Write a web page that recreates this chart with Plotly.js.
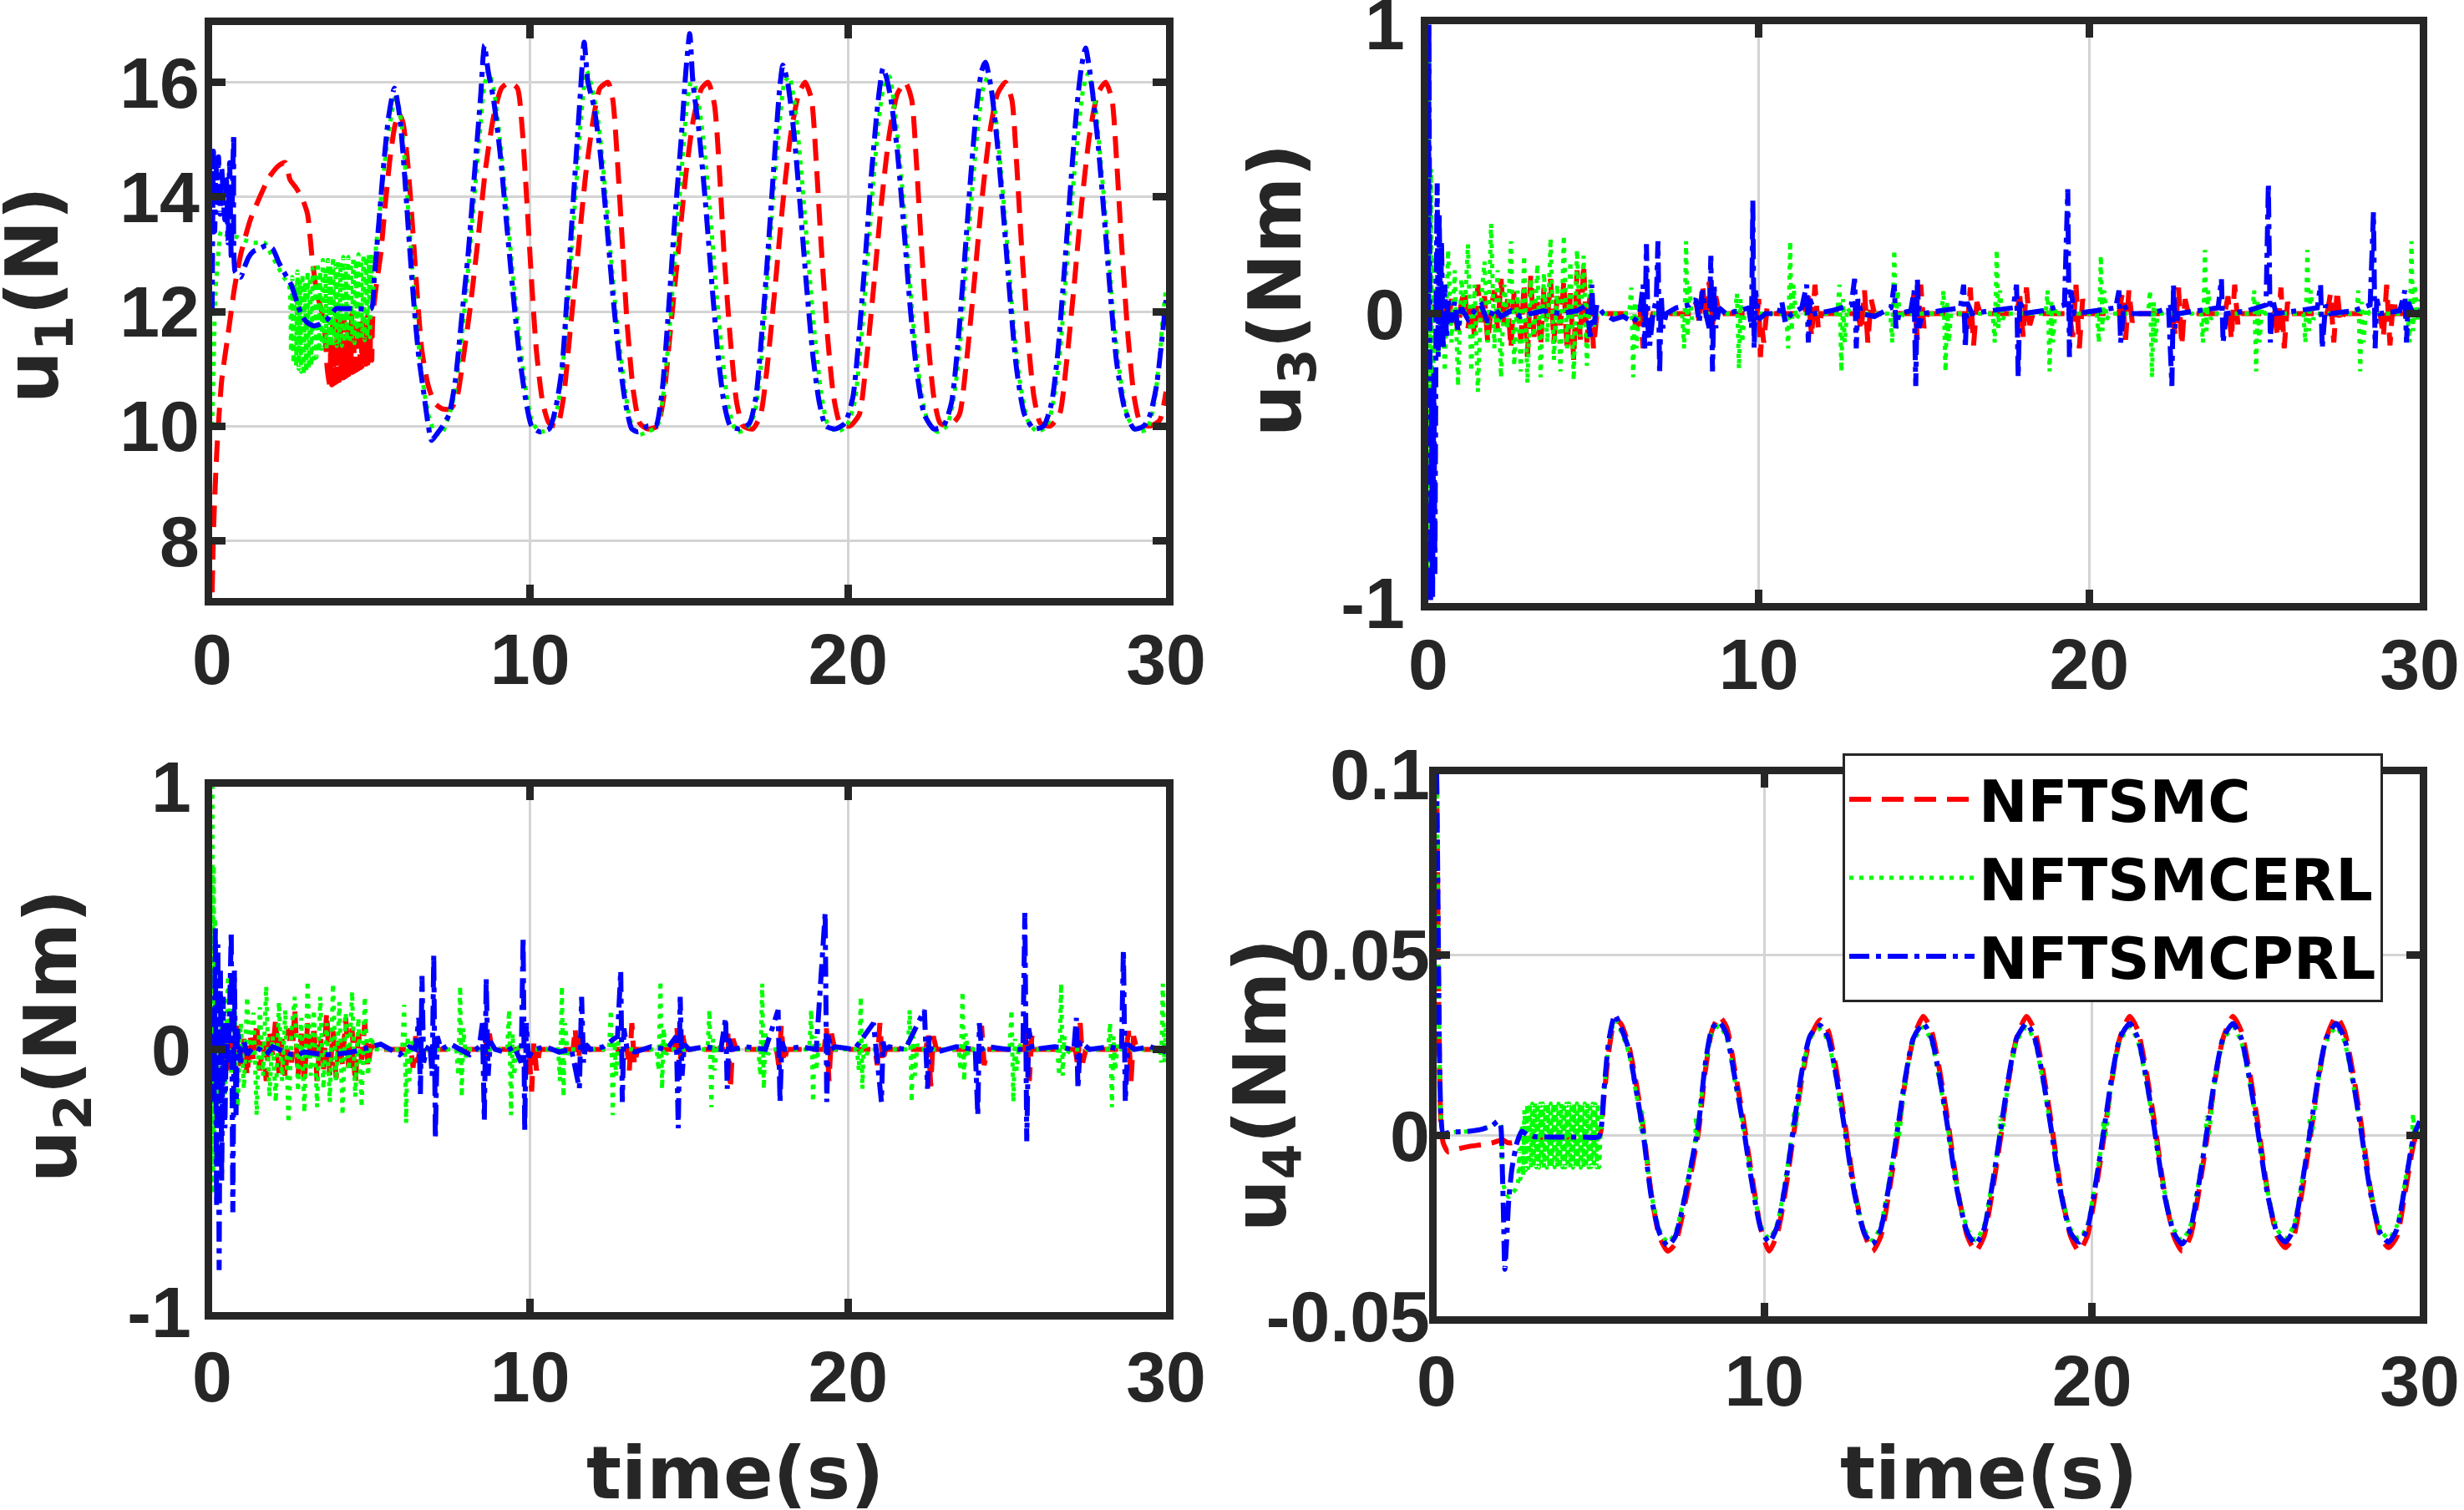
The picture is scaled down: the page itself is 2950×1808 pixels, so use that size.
<!DOCTYPE html>
<html>
<head>
<meta charset="utf-8">
<script src="https://cdn.plot.ly/plotly-3.0.1.min.js"></script>
<style>html,body{margin:0;padding:0;background:#fff;}#chart{width:2950px;height:1808px;}</style>
</head>
<body>
<div id="chart"></div>
<script>
// ---------------- DATA (time [s], value) ----------------
const methods = ['NFTSMC', 'NFTSMCERL', 'NFTSMCPRL'];
const xTicks = [0, 10, 20, 30];
const u1Ticks = [8, 10, 12, 14, 16];
const u23Ticks = [-1, 0, 1];
const u23TickText = ['-1', '0', '1'];
const u4Ticks = [-0.05, 0, 0.05, 0.1];
const u4TickText = ['-0.05', '0', '0.05', '0.1'];

// u1 (N)
const u1_NFTSMC = [[0,7.1],[0.05,8.3],[0.15,9.6],[0.3,10.8],[0.5,11.6],[0.7,12.4],[0.9,13.0],[1.2,13.6],[1.5,14.0],[1.8,14.35],[2.1,14.55],[2.3,14.6],[2.45,14.3],[2.65,14.15],[2.85,13.95],[3.0,13.7],[3.15,12.9],[3.3,12.3],[3.45,12.0],[3.55,11.6],[3.62,11.0],[3.7,10.72],
[3.73,11.5],[3.76,10.72],[3.79,11.8],[3.82,10.74],[3.85,11.4],[3.88,10.76],[3.91,11.9],[3.94,10.78],[3.97,11.6],[4.0,10.8],[4.03,11.85],[4.06,10.82],[4.09,11.5],[4.12,10.84],[4.15,11.9],[4.18,10.86],[4.21,11.45],[4.24,10.88],[4.27,11.8],[4.3,10.9],[4.33,11.6],[4.36,10.92],[4.39,11.95],[4.42,10.94],[4.45,11.5],[4.48,10.96],[4.51,11.85],[4.54,10.98],[4.57,11.55],[4.6,11.0],[4.63,11.9],[4.66,11.02],[4.69,11.5],[4.72,11.04],[4.75,11.8],[4.78,11.06],[4.81,11.6],[4.84,11.08],[4.87,11.9],[4.9,11.1],[4.93,11.5],[4.96,11.12],[4.99,11.85],[5.02,11.15],[5.05,11.9],
[5.15,12.4],[5.3,13.0],[5.45,13.9],[5.6,14.7],[5.75,15.25],[5.88,15.45],[6.0,15.3],[6.15,14.6],[6.3,13.5],[6.45,12.3],[6.6,11.3],[6.8,10.7],[7.0,10.4],[7.25,10.3],[7.5,10.3],[7.7,10.5],[7.9,11.2],[8.1,12.0],[8.35,13.2],[8.6,14.5],[8.85,15.4],[9.1,15.9],[9.35,16.0],[9.6,15.9],[9.75,15.2],[9.9,13.9],[10.05,12.5],[10.2,11.3],[10.4,10.4],[10.6,10.05],[10.85,10.0],[11.05,10.5],[11.25,11.6],[11.5,13.0],[11.75,14.4],[12.0,15.4],[12.2,15.9],[12.45,16.0],[12.6,15.7],[12.75,14.6],[12.9,13.2],[13.05,11.8],[13.25,10.6],[13.45,10.05],[13.7,9.95],[14.0,10.0],[14.2,10.5],[14.4,11.6],[14.65,13.0],[14.9,14.4],[15.15,15.4],[15.4,15.9],[15.6,16.0],[15.8,15.6],[15.95,14.5],[16.1,13.0],[16.3,11.5],[16.5,10.4],[16.7,10.0],[17.0,9.95],[17.25,10.2],[17.45,11.0],[17.7,12.4],[17.95,13.9],[18.2,15.1],[18.45,15.8],[18.65,16.0],[18.85,15.7],[19.0,14.6],[19.15,13.2],[19.35,11.6],[19.55,10.5],[19.75,10.05],[20.05,10.0],[20.35,10.2],[20.55,11.0],[20.8,12.4],[21.05,13.9],[21.3,15.1],[21.55,15.8],[21.8,16.0],[22.0,15.7],[22.15,14.6],[22.3,13.2],[22.5,11.6],[22.7,10.5],[22.9,10.05],[23.2,10.0],[23.5,10.2],[23.7,11.0],[23.95,12.4],[24.2,13.9],[24.45,15.1],[24.7,15.8],[24.95,16.0],[25.15,15.7],[25.3,14.6],[25.45,13.2],[25.65,11.6],[25.85,10.5],[26.05,10.05],[26.35,10.0],[26.65,10.2],[26.85,11.0],[27.1,12.4],[27.35,13.9],[27.6,15.1],[27.85,15.8],[28.1,16.0],[28.3,15.7],[28.45,14.6],[28.6,13.2],[28.8,11.6],[29.0,10.5],[29.2,10.05],[29.5,10.0],[29.8,10.1],[30.0,10.6]];

const u1_NFTSMCERL = [[0,10.0],[0.05,11.2],[0.1,12.3],[0.18,12.9],[0.28,13.4],[0.4,13.35],[0.6,13.3],[0.8,13.3],[1.0,13.25],[1.3,13.2],[1.65,13.2],[1.85,13.0],[2.05,12.8],[2.25,12.6],[2.42,12.45],
[2.48,11.3],[2.52,12.6],[2.56,11.1],[2.6,12.5],[2.64,11.05],[2.68,12.7],[2.72,11.0],[2.76,12.55],[2.8,10.95],[2.84,12.65],[2.88,10.9],[2.92,12.5],[2.96,10.95],[3.0,12.7],[3.04,11.0],[3.08,12.6],[3.12,11.05],[3.16,12.75],[3.2,11.1],[3.24,12.6],[3.28,11.2],[3.32,12.85],[3.36,11.3],[3.4,12.7],[3.44,11.35],[3.48,12.9],[3.52,11.4],[3.56,12.75],[3.6,11.35],[3.64,12.9],[3.68,11.4],[3.72,12.8],[3.76,11.4],[3.8,12.95],[3.84,11.45],[3.88,12.8],[3.92,11.4],[3.96,12.9],[4.0,11.45],[4.04,12.85],[4.08,11.4],[4.12,12.95],[4.16,11.45],[4.2,12.8],[4.24,11.5],[4.28,12.95],[4.32,11.45],[4.36,12.85],[4.4,11.5],[4.44,12.95],[4.48,11.45],[4.52,12.9],[4.56,11.5],[4.6,13.0],[4.64,11.5],[4.68,12.9],[4.72,11.55],[4.76,13.0],[4.8,11.5],[4.84,12.95],[4.88,11.55],[4.92,13.0],[4.96,11.55],[5.0,13.0],[5.04,12.2],
[5.15,13.1],[5.3,13.9],[5.45,14.7],[5.6,15.3],[5.78,15.8],[5.95,15.3],[6.1,14.3],[6.25,13.1],[6.4,12.0],[6.55,11.1],[6.7,10.5],[6.85,10.1],[7.0,9.9],[7.2,9.85],[7.4,10.1],[7.6,10.5],[7.8,11.3],[8.0,12.4],[8.2,13.7],[8.4,15.0],[8.55,15.9],[8.68,16.2],[8.85,15.9],[9.05,15.0],[9.25,13.9],[9.45,12.7],[9.65,11.6],[9.85,10.7],[10.05,10.1],[10.3,9.9],[10.6,9.95],[10.85,10.3],[11.05,11.2],[11.25,12.6],[11.45,14.2],[11.62,15.5],[11.78,16.2],[11.95,15.9],[12.15,15.3],[12.35,14.2],[12.55,12.9],[12.75,11.7],[12.95,10.8],[13.15,10.1],[13.4,9.85],[13.7,9.9],[14.0,10.0],[14.2,10.6],[14.4,11.8],[14.6,13.3],[14.8,14.7],[14.95,15.7],[15.1,16.1],[15.25,15.8],[15.45,15.0],[15.65,13.8],[15.85,12.4],[16.05,11.2],[16.25,10.3],[16.5,9.9],[16.8,9.95],[17.05,10.2],[17.25,11.0],[17.45,12.5],[17.65,14.0],[17.85,15.3],[18.0,16.0],[18.15,16.1],[18.35,15.5],[18.55,14.3],[18.75,12.9],[18.95,11.6],[19.15,10.6],[19.35,10.05],[19.65,9.9],[19.95,10.0],[20.2,10.4],[20.4,11.4],[20.6,12.8],[20.8,14.3],[21.0,15.5],[21.15,16.0],[21.3,16.1],[21.45,15.6],[21.65,14.5],[21.85,13.2],[22.05,11.8],[22.25,10.8],[22.5,10.1],[22.8,9.9],[23.1,10.0],[23.3,10.4],[23.5,11.3],[23.7,12.7],[23.9,14.1],[24.1,15.3],[24.25,15.9],[24.4,16.1],[24.6,15.6],[24.8,14.5],[25.0,13.2],[25.2,11.8],[25.4,10.8],[25.65,10.1],[25.95,9.9],[26.25,10.0],[26.45,10.4],[26.65,11.2],[26.85,12.6],[27.05,14.0],[27.25,15.2],[27.4,15.9],[27.55,16.15],[27.75,15.7],[27.95,14.6],[28.15,13.3],[28.35,11.9],[28.55,10.9],[28.8,10.15],[29.1,9.9],[29.4,9.95],[29.6,10.3],[29.8,11.2],[29.9,11.9],[30.0,12.4]];

const u1_NFTSMCPRL = [[0,12.0],[0.04,14.8],[0.08,13.4],[0.12,14.6],[0.16,13.9],[0.2,14.7],[0.25,13.7],[0.3,14.5],[0.35,14.0],[0.4,13.6],[0.45,14.3],[0.5,13.2],[0.55,14.6],[0.6,12.9],[0.64,14.2],[0.68,15.1],[0.72,12.7],[0.8,12.65],[0.9,12.6],[1.0,12.75],[1.15,12.95],[1.3,13.05],[1.5,13.1],[1.7,13.15],[1.9,13.1],[2.1,12.85],[2.3,12.65],[2.5,12.45],[2.7,12.1],[2.85,11.9],[3.0,11.8],[3.2,11.75],[3.4,11.78],[3.6,11.85],[3.75,11.95],[3.9,12.05],[4.2,12.05],[4.6,12.05],[5.0,12.05],[5.1,12.6],[5.25,13.6],[5.4,14.6],[5.55,15.4],[5.73,15.9],[5.9,15.4],[6.05,14.4],[6.2,13.2],[6.35,12.1],[6.5,11.2],[6.65,10.6],[6.8,10.0],[6.9,9.75],[7.05,9.85],[7.25,10.0],[7.45,10.2],[7.65,10.8],[7.85,11.9],[8.05,13.0],[8.25,14.4],[8.45,15.8],[8.56,16.65],[8.68,16.2],[8.85,15.7],[9.05,14.8],[9.25,13.6],[9.45,12.4],[9.65,11.3],[9.85,10.5],[10.05,10.0],[10.3,9.9],[10.6,9.95],[10.8,10.3],[11.0,11.0],[11.2,12.6],[11.4,14.3],[11.58,15.8],[11.7,16.7],[11.82,16.0],[12.0,15.6],[12.2,14.8],[12.4,13.6],[12.6,12.3],[12.8,11.2],[13.0,10.4],[13.2,9.95],[13.4,9.9],[13.7,10.0],[13.95,10.0],[14.15,10.6],[14.35,12.0],[14.55,13.6],[14.75,15.0],[14.9,16.2],[15.02,16.85],[15.12,16.0],[15.3,15.2],[15.5,14.0],[15.7,12.6],[15.9,11.3],[16.1,10.4],[16.3,10.0],[16.6,9.95],[16.9,10.05],[17.1,10.5],[17.3,11.7],[17.5,13.2],[17.7,14.8],[17.85,15.9],[17.95,16.3],[18.1,16.0],[18.3,15.1],[18.5,13.8],[18.7,12.4],[18.9,11.2],[19.1,10.4],[19.3,10.0],[19.6,9.95],[19.9,10.05],[20.15,10.5],[20.35,11.6],[20.55,13.0],[20.75,14.5],[20.95,15.7],[21.1,16.25],[21.2,16.1],[21.35,15.7],[21.55,14.8],[21.75,13.5],[21.95,12.1],[22.15,11.0],[22.4,10.2],[22.7,9.95],[23.0,10.0],[23.25,10.4],[23.45,11.4],[23.65,12.8],[23.85,14.3],[24.05,15.6],[24.2,16.2],[24.32,16.35],[24.5,15.9],[24.7,14.9],[24.9,13.6],[25.1,12.2],[25.3,11.0],[25.55,10.2],[25.85,9.95],[26.15,10.0],[26.4,10.4],[26.6,11.3],[26.8,12.7],[27.0,14.2],[27.2,15.6],[27.35,16.3],[27.47,16.6],[27.65,16.0],[27.85,15.0],[28.05,13.7],[28.25,12.3],[28.45,11.1],[28.7,10.3],[29.0,9.95],[29.3,10.0],[29.5,10.2],[29.7,10.7],[29.85,11.4],[30.0,12.2]];

// u3 (Nm)
const u3_NFTSMC = [[0,0],[0.05,-0.05],[0.1,0.03],[0.2,-0.02],[0.3,0.04],[0.4,-0.03],[0.5,0.02],[0.6,-0.04],[0.7,0.05],[0.8,0.0],[0.9,-0.06],[1.0,0.04],[1.1,0.08],[1.2,-0.05],[1.3,0.03],[1.4,-0.08],[1.5,0.1],[1.6,-0.03],[1.7,0.06],[1.8,-0.1],[1.9,0.02],[2.0,0.08],[2.1,-0.06],[2.2,0.12],[2.3,-0.04],[2.4,0.05],[2.5,-0.12],[2.6,0.08],[2.7,0.02],[2.8,-0.09],[2.9,0.1],[3.0,-0.15],[3.1,0.13],[3.2,-0.08],[3.3,0.04],[3.4,-0.11],[3.5,0.09],[3.6,-0.03],[3.7,0.12],[3.8,-0.1],[3.9,0.06],[4.0,-0.04],[4.1,0.11],[4.2,-0.13],[4.3,0.07],[4.4,-0.16],[4.5,0.15],[4.6,-0.09],[4.7,0.17],[4.8,-0.1],[4.9,0.08],[5.0,-0.12],[5.1,0.0],
[6.2,0],[6.3,-0.05],[6.4,0.03],[6.5,-0.12],[6.6,0.02],[6.7,-0.04],[6.8,0],[8.0,0],[8.1,0.04],[8.2,-0.03],[8.3,0.1],[8.4,-0.02],[8.5,0.11],[8.6,-0.04],[8.7,0.06],[8.8,0],[9.95,0],[10.0,0.05],[10.05,-0.15],[10.1,-0.05],[10.15,-0.1],[10.25,0.02],[10.35,0],[11.4,0],[11.5,0.06],[11.6,-0.08],[11.7,0.1],[11.8,-0.05],[11.9,0],[13.0,0],[13.1,-0.06],[13.2,0.08],[13.3,-0.1],[13.4,0.05],[13.5,0],[14.6,0],[14.7,0.07],[14.8,-0.09],[14.9,0.1],[15.0,-0.05],[15.1,0],[16.2,0],[16.3,-0.07],[16.4,0.09],[16.5,-0.11],[16.6,0.04],[16.7,0],[17.8,0],[17.9,0.06],[18.0,-0.08],[18.1,0.09],[18.2,-0.04],[18.3,0],[19.4,0],[19.5,-0.08],[19.6,0.1],[19.7,-0.12],[19.8,0.05],[19.9,0],[20.9,0],[21.0,0.07],[21.1,-0.09],[21.2,0.08],[21.3,-0.03],[21.4,0],[22.5,0],[22.6,-0.07],[22.7,0.09],[22.8,-0.11],[22.9,0.05],[23.0,0],[24.1,0],[24.2,0.06],[24.3,-0.09],[24.4,0.1],[24.5,-0.04],[24.6,0],[25.6,0],[25.7,-0.08],[25.8,0.09],[25.9,-0.12],[26.0,0.04],[26.1,0],[27.2,0],[27.3,0.07],[27.4,-0.1],[27.5,0.08],[27.6,-0.03],[27.7,0],[28.8,0],[28.9,-0.08],[29.0,0.1],[29.1,-0.11],[29.2,0.05],[29.3,0],[30.0,0]];

const u3_NFTSMCERL = [[0,0],[0.02,0.9],[0.05,-0.9],[0.08,0.5],[0.12,-0.4],[0.2,0.2],[0.3,-0.15],[0.4,0.1],[0.5,-0.2],[0.6,0.22],[0.7,-0.1],[0.8,0.15],[0.9,-0.25],[1.0,0.12],[1.1,0.0],[1.2,0.24],[1.3,-0.2],[1.4,0.1],[1.5,-0.27],[1.6,0.05],[1.7,0.18],[1.8,-0.1],[1.9,0.31],[2.0,-0.12],[2.1,0.15],[2.2,-0.22],[2.3,0.1],[2.4,-0.05],[2.5,0.25],[2.6,-0.18],[2.7,0.08],[2.8,-0.2],[2.9,0.2],[3.0,-0.24],[3.1,0.12],[3.2,-0.08],[3.3,0.17],[3.4,-0.22],[3.5,0.14],[3.6,-0.1],[3.7,0.26],[3.8,-0.16],[3.9,0.1],[4.0,-0.2],[4.1,0.27],[4.2,-0.12],[4.3,0.18],[4.4,-0.23],[4.5,0.22],[4.6,-0.08],[4.7,0.2],[4.8,-0.18],[4.9,0.12],[5.0,-0.05],[5.1,0.0],
[6.08,0],[6.14,0.09],[6.2,-0.22],[6.25,0.04],[6.3,-0.12],[6.38,0.02],[6.48,0],
[7.68,0],[7.74,-0.12],[7.8,0.25],[7.85,-0.08],[7.9,0.1],[7.98,-0.02],[8.08,0],
[9.28,0],[9.34,0.07],[9.4,-0.19],[9.45,0.05],[9.5,-0.1],[9.58,0.02],[9.68,0],
[10.83,0],[10.89,-0.12],[10.95,0.25],[11.0,-0.06],[11.05,0.1],[11.13,-0.02],[11.23,0],
[12.38,0],[12.44,0.1],[12.5,-0.2],[12.55,0.05],[12.6,-0.1],[12.68,0.02],[12.78,0],
[13.98,0],[14.04,-0.1],[14.1,0.22],[14.15,-0.06],[14.2,0.08],[14.28,-0.02],[14.38,0],
[15.53,0],[15.59,0.08],[15.65,-0.2],[15.7,0.04],[15.75,-0.1],[15.83,0.02],[15.93,0],
[17.08,0],[17.14,-0.1],[17.2,0.22],[17.25,-0.05],[17.3,0.08],[17.38,-0.02],[17.48,0],
[18.68,0],[18.74,0.08],[18.8,-0.2],[18.85,0.04],[18.9,-0.1],[18.98,0.02],[19.08,0],
[20.23,0],[20.29,-0.1],[20.35,0.2],[20.4,-0.06],[20.45,0.08],[20.53,-0.02],[20.63,0],
[21.78,0],[21.84,0.08],[21.9,-0.22],[21.95,0.04],[22.0,-0.1],[22.08,0.02],[22.18,0],
[23.38,0],[23.44,-0.1],[23.5,0.22],[23.55,-0.06],[23.6,0.08],[23.68,-0.02],[23.78,0],
[24.93,0],[24.99,0.08],[25.05,-0.2],[25.1,0.04],[25.15,-0.1],[25.23,0.02],[25.33,0],
[26.48,0],[26.54,-0.1],[26.6,0.22],[26.65,-0.06],[26.7,0.08],[26.78,-0.02],[26.88,0],
[28.08,0],[28.14,0.08],[28.2,-0.2],[28.25,0.04],[28.3,-0.1],[28.38,0.02],[28.48,0],
[29.63,0],[29.69,-0.1],[29.75,0.25],[29.8,-0.06],[29.85,0.1],[29.93,-0.02],[30.0,0.05]];

const u3_NFTSMCPRL = [[0,0],[0.02,1.0],[0.04,0.2],[0.07,-1.0],[0.1,-0.3],[0.13,-0.98],[0.17,-0.2],[0.2,-0.9],[0.24,0.1],[0.27,0.45],[0.3,-0.15],[0.33,0.35],[0.37,-0.05],[0.4,0.25],[0.45,-0.12],[0.5,0.1],[0.55,-0.08],[0.6,0.05],[0.7,-0.03],[0.8,0.04],[0.9,-0.06],[1.0,0.02],[1.2,-0.02],[1.4,0.01],[1.6,0.03],[1.8,-0.03],[2.0,0.02],[2.2,-0.01],[2.5,0.01],[2.8,-0.01],[3.1,0.0],[3.5,0.01],[4.0,0.0],[4.5,0.01],[4.8,0.03],[4.9,-0.08],[4.95,0.1],[5.0,-0.05],[5.1,0.03],[5.3,0.0],[5.6,-0.02],[5.9,-0.01],[6.2,-0.03],[6.4,0.0],[6.5,0.1],[6.55,-0.12],[6.6,0.24],[6.65,-0.05],[6.7,-0.11],[6.8,0.0],[6.9,0.05],[6.95,0.25],[7.0,-0.21],[7.05,0.06],[7.1,-0.05],[7.2,0.0],[7.5,0.02],[7.9,0.03],[8.1,0.05],[8.2,-0.03],[8.3,0.08],[8.4,0.0],[8.5,-0.05],[8.55,0.2],[8.6,-0.2],[8.65,0.1],[8.7,-0.05],[8.8,0.02],[9.0,0.0],[9.4,0.01],[9.7,0.02],[9.78,-0.05],[9.82,0.39],[9.86,-0.12],[9.9,0.08],[10.0,-0.02],[10.2,0.0],[10.6,0.0],[10.7,0.04],[10.8,-0.03],[11.0,0.0],[11.3,0.02],[11.45,0.1],[11.5,-0.1],[11.55,0.05],[11.7,0.0],[12.2,0.01],[12.8,0.03],[12.9,0.12],[12.95,-0.12],[13.0,0.05],[13.1,0.0],[13.5,-0.01],[14.0,0.02],[14.1,0.1],[14.15,-0.05],[14.25,0.0],[14.6,0.01],[14.7,0.08],[14.75,-0.25],[14.8,0.12],[14.85,-0.05],[14.95,0.0],[15.5,0.01],[16.1,0.02],[16.2,0.1],[16.25,-0.12],[16.3,0.04],[16.45,0.0],[17.0,0.01],[17.7,0.02],[17.8,0.1],[17.85,-0.22],[17.9,0.05],[18.0,0.0],[18.6,0.01],[19.25,0.03],[19.35,0.43],[19.4,-0.15],[19.45,0.08],[19.55,0.0],[20.2,0.01],[20.8,0.02],[20.9,0.08],[20.95,-0.1],[21.05,0.03],[21.2,0.0],[21.9,0.0],[22.4,0.02],[22.5,-0.25],[22.55,0.1],[22.6,-0.05],[22.7,0.0],[23.3,0.01],[23.9,0.02],[24.0,0.12],[24.05,-0.1],[24.15,0.0],[24.8,0.01],[25.35,0.03],[25.42,0.45],[25.48,-0.1],[25.55,0.05],[25.65,0.0],[26.3,0.01],[26.9,0.02],[27.0,0.1],[27.05,-0.12],[27.15,0.03],[27.3,0.0],[28.0,0.01],[28.5,0.03],[28.6,0.35],[28.65,-0.12],[28.7,0.05],[28.8,0.0],[29.4,0.01],[29.55,0.08],[29.6,-0.1],[29.65,0.04],[29.8,0.0],[30.0,0.01]];

// u2 (Nm)
const u2_NFTSMC = [[0,0],[0.1,-0.04],[0.2,0.05],[0.3,-0.06],[0.4,0.03],[0.5,-0.08],[0.6,0.06],[0.7,-0.03],[0.8,0.09],[0.9,-0.07],[1.0,0.04],[1.1,-0.1],[1.2,0.05],[1.3,-0.04],[1.4,0.1],[1.5,-0.08],[1.6,0.03],[1.7,-0.12],[1.8,0.07],[1.9,-0.02],[2.0,0.12],[2.1,-0.09],[2.2,0.04],[2.3,-0.11],[2.4,0.08],[2.5,-0.05],[2.6,0.15],[2.7,-0.1],[2.8,0.06],[2.9,-0.13],[3.0,0.1],[3.1,-0.04],[3.2,0.09],[3.3,-0.12],[3.4,0.05],[3.5,-0.08],[3.6,0.14],[3.7,-0.1],[3.8,0.07],[3.9,-0.11],[4.0,0.05],[4.1,-0.06],[4.2,0.12],[4.3,-0.09],[4.4,0.08],[4.5,-0.13],[4.6,0.06],[4.7,-0.04],[4.8,0.1],[4.9,-0.07],[5.0,0.02],[5.1,0],
[6.25,0],[6.32,-0.07],[6.4,0.05],[6.47,-0.05],[6.55,0.02],[6.65,0],[8.5,0],[8.58,0.1],[8.65,-0.03],[8.72,0.06],[8.8,0],[9.9,0],[9.97,-0.02],[10.05,-0.16],[10.12,0.03],[10.2,-0.08],[10.3,0],[11.35,0],[11.42,0.08],[11.5,-0.1],[11.58,0.05],[11.68,0],[13.05,0],[13.12,-0.08],[13.2,0.1],[13.28,-0.06],[13.38,0],[14.55,0],[14.62,0.08],[14.7,-0.1],[14.78,0.07],[14.88,0],[16.15,0],[16.22,0.06],[16.3,-0.15],[16.38,0.04],[16.48,0],[17.75,0],[17.82,-0.06],[17.9,0.09],[17.98,-0.05],[18.08,0],[19.25,0],[19.32,0.08],[19.4,-0.12],[19.48,0.06],[19.58,0],[20.85,0],[20.92,-0.06],[21.0,0.1],[21.08,-0.05],[21.18,0],[22.45,0],[22.52,0.06],[22.6,-0.14],[22.68,0.05],[22.78,0],[24.05,0],[24.12,-0.05],[24.2,0.09],[24.28,-0.06],[24.38,0],[25.55,0],[25.62,0.07],[25.7,-0.12],[25.78,0.05],[25.88,0],[27.15,0],[27.22,-0.06],[27.3,0.1],[27.38,-0.05],[27.48,0],[28.75,0],[28.82,0.07],[28.9,-0.12],[28.98,0.05],[29.08,0],[30.0,0]];

const u2_NFTSMCERL = [[0,0],[0.01,1.0],[0.03,-0.55],[0.05,0.7],[0.07,-0.45],[0.09,0.5],[0.12,-0.3],[0.16,0.2],[0.2,-0.25],[0.3,0.15],[0.4,-0.2],[0.5,0.28],[0.6,-0.1],[0.7,0.18],[0.8,-0.22],[0.9,0.1],[1.0,-0.15],[1.1,0.2],[1.2,-0.05],[1.3,0.14],[1.4,-0.25],[1.5,0.16],[1.6,-0.1],[1.7,0.24],[1.8,-0.18],[1.9,0.05],[2.0,-0.2],[2.1,0.18],[2.2,-0.12],[2.3,0.15],[2.4,-0.28],[2.5,0.08],[2.6,0.2],[2.7,-0.16],[2.8,0.12],[2.9,-0.24],[3.0,0.26],[3.1,-0.1],[3.2,0.15],[3.3,-0.22],[3.4,0.2],[3.5,-0.15],[3.6,0.1],[3.7,-0.2],[3.8,0.25],[3.9,-0.12],[4.0,0.18],[4.1,-0.25],[4.2,0.14],[4.3,-0.08],[4.4,0.22],[4.5,-0.18],[4.6,0.12],[4.7,-0.22],[4.8,0.2],[4.9,-0.1],[5.0,0.05],[5.1,0.0],
[5.98,0],[6.04,0.17],[6.1,-0.28],[6.15,0.05],[6.2,-0.12],[6.28,0.03],[6.38,0],
[7.68,0],[7.74,-0.1],[7.8,0.24],[7.85,-0.18],[7.9,0.08],[7.98,-0.03],[8.08,0],
[9.28,0],[9.34,0.15],[9.4,-0.25],[9.45,0.06],[9.5,-0.1],[9.58,0.02],[9.68,0],
[10.88,0],[10.94,-0.12],[11.0,0.24],[11.05,-0.18],[11.1,0.1],[11.18,-0.02],[11.28,0],
[12.48,0],[12.54,0.15],[12.6,-0.25],[12.65,0.05],[12.7,-0.1],[12.78,0.03],[12.88,0],
[13.98,0],[14.04,-0.08],[14.1,0.26],[14.15,-0.15],[14.2,0.08],[14.28,-0.02],[14.38,0],
[15.58,0],[15.64,0.15],[15.7,-0.22],[15.75,0.04],[15.8,-0.08],[15.88,0.02],[15.98,0],
[17.18,0],[17.24,-0.1],[17.3,0.25],[17.35,-0.15],[17.4,0.06],[17.48,-0.02],[17.58,0],
[18.78,0],[18.84,0.15],[18.9,-0.2],[18.95,0.05],[19.0,-0.08],[19.08,0.02],[19.18,0],
[20.28,0],[20.34,-0.08],[20.4,0.2],[20.45,-0.15],[20.5,0.05],[20.58,-0.02],[20.68,0],
[21.88,0],[21.94,0.15],[22.0,-0.2],[22.05,0.05],[22.1,-0.1],[22.18,0.02],[22.28,0],
[23.48,0],[23.54,-0.08],[23.6,0.22],[23.65,-0.12],[23.7,0.06],[23.78,-0.02],[23.88,0],
[25.08,0],[25.14,0.15],[25.2,-0.2],[25.25,0.04],[25.3,-0.08],[25.38,0.02],[25.48,0],
[26.58,0],[26.64,-0.1],[26.7,0.25],[26.75,-0.1],[26.8,0.05],[26.88,-0.02],[26.98,0],
[28.18,0],[28.24,0.1],[28.3,-0.22],[28.35,0.05],[28.4,-0.08],[28.48,0.02],[28.58,0],
[29.8,0],[29.85,-0.05],[29.9,0.25],[29.95,-0.05],[30.0,0.1]];

const u2_NFTSMCPRL = [[0,0],[0.03,0.05],[0.06,-0.2],[0.1,0.47],[0.14,-0.6],[0.18,0.4],[0.22,-0.84],[0.26,0.3],[0.3,-0.5],[0.35,0.2],[0.4,-0.3],[0.45,0.1],[0.5,-0.05],[0.55,0.15],[0.6,0.45],[0.65,-0.62],[0.7,0.3],[0.75,-0.25],[0.8,0.08],[0.9,-0.05],[1.0,0.03],[1.1,-0.02],[1.3,0.01],[1.5,0.0],[1.7,-0.02],[1.9,0.01],[2.1,0.0],[2.3,-0.01],[2.5,-0.02],[2.7,-0.02],[2.9,-0.01],[3.2,-0.015],[3.5,-0.02],[3.8,-0.02],[4.1,-0.015],[4.4,-0.01],[4.7,0.0],[5.0,0.01],[5.3,0.02],[5.6,0.0],[5.9,-0.02],[6.2,0.01],[6.4,0.0],[6.5,0.12],[6.55,-0.17],[6.6,0.28],[6.65,-0.05],[6.75,0.0],[6.85,0.02],[6.92,-0.1],[6.97,0.36],[7.02,-0.34],[7.08,0.05],[7.2,0.0],[7.5,0.02],[7.8,0.0],[8.1,-0.02],[8.4,0.01],[8.5,0.1],[8.56,-0.27],[8.62,0.27],[8.68,-0.1],[8.75,0.03],[8.9,0.0],[9.2,-0.01],[9.5,0.01],[9.72,-0.05],[9.78,0.43],[9.83,-0.31],[9.88,0.1],[9.95,-0.03],[10.1,0.0],[10.5,0.01],[10.9,-0.01],[11.3,0.0],[11.55,-0.15],[11.62,0.2],[11.68,-0.05],[11.75,0.02],[11.9,0.0],[12.3,0.01],[12.75,0.05],[12.85,0.3],[12.9,-0.2],[12.95,0.08],[13.05,0.0],[13.3,-0.01],[13.8,0.01],[14.3,0.0],[14.6,0.05],[14.66,-0.3],[14.72,0.2],[14.78,-0.1],[14.85,0.02],[15.0,0.0],[15.5,0.01],[16.0,0.0],[16.15,0.12],[16.2,-0.15],[16.25,0.04],[16.35,0.0],[16.8,0.01],[17.4,0.0],[17.8,0.15],[17.86,-0.2],[17.92,0.03],[18.0,0.0],[18.5,0.01],[19.0,0.0],[19.28,0.52],[19.33,-0.2],[19.38,0.06],[19.45,0.0],[19.6,0.01],[20.2,0.0],[20.8,0.1],[21.05,-0.2],[21.1,0.03],[21.15,0.0],[21.3,0.01],[21.8,0.0],[22.4,0.15],[22.5,-0.15],[22.55,0.05],[22.62,0.0],[22.8,-0.01],[23.4,0.01],[24.0,0.0],[24.08,-0.25],[24.13,0.1],[24.2,0.0],[24.4,0.01],[25.0,0.0],[25.5,0.0],[25.56,0.52],[25.62,-0.35],[25.68,0.08],[25.8,0.0],[26.5,0.01],[27.1,0.0],[27.18,0.12],[27.23,-0.15],[27.3,0.03],[27.6,0.0],[28.2,0.01],[28.6,0.0],[28.66,0.38],[28.72,-0.2],[28.8,0.02],[29.0,0.0],[29.5,0.01],[29.8,0.0],[30.0,-0.01]];

// u4 (Nm)
const u4_NFTSMC = [[0,0.1],[0.03,0.07],[0.06,0.04],[0.09,0.018],[0.13,0.004],[0.2,-0.002],[0.35,-0.0045],[0.6,-0.0038],[1.0,-0.003],[1.4,-0.0025],[1.7,-0.002],[1.87,-0.0015],[1.95,-0.0013],[2.0,-0.0012],[2.04,-0.0013],[2.08,-0.0015],[2.13,-0.0018],[2.2,-0.002],[2.3,-0.002],[2.45,-0.0015],[2.6,-0.001],[2.75,-0.0008],[3.0,-0.0006],[3.5,-0.0005],[4.0,-0.0005],[4.5,-0.0005],[4.95,-0.0004],[5.1,0.01],[5.25,0.023],[5.44,0.032],[5.62,0.031],[5.86,0.025],[6.08,0.015],[6.29,0.003],[6.55,-0.016],[6.8,-0.028],[7.05,-0.032],[7.28,-0.03],[7.48,-0.023],[7.75,-0.011],[7.99,0.001],[8.2,0.018],[8.4,0.029],[8.62,0.033],[8.85,0.03],[9.1,0.018],[9.35,0.005],[9.6,-0.01],[9.9,-0.026],[10.15,-0.032],[10.4,-0.027],[10.65,-0.015],[10.92,0.002],[11.15,0.016],[11.4,0.027],[11.7,0.032],[11.95,0.029],[12.2,0.018],[12.45,0.004],[12.75,-0.015],[13.05,-0.027],[13.3,-0.032],[13.55,-0.028],[13.8,-0.016],[14.07,0.0],[14.3,0.015],[14.55,0.027],[14.85,0.033],[15.1,0.029],[15.35,0.018],[15.6,0.004],[15.9,-0.015],[16.2,-0.028],[16.45,-0.032],[16.7,-0.028],[16.95,-0.016],[17.22,0.0],[17.45,0.015],[17.7,0.027],[18.0,0.033],[18.25,0.029],[18.5,0.018],[18.75,0.004],[19.05,-0.015],[19.35,-0.028],[19.6,-0.032],[19.85,-0.028],[20.1,-0.016],[20.37,0.0],[20.6,0.015],[20.85,0.027],[21.15,0.033],[21.4,0.029],[21.65,0.018],[21.9,0.004],[22.2,-0.015],[22.5,-0.028],[22.75,-0.032],[23.0,-0.028],[23.25,-0.016],[23.52,0.0],[23.75,0.015],[24.0,0.027],[24.3,0.033],[24.55,0.029],[24.8,0.018],[25.05,0.004],[25.35,-0.015],[25.65,-0.028],[25.9,-0.031],[26.15,-0.028],[26.4,-0.016],[26.67,0.0],[26.9,0.015],[27.15,0.027],[27.45,0.033],[27.7,0.029],[27.95,0.018],[28.2,0.004],[28.5,-0.015],[28.8,-0.028],[29.05,-0.031],[29.3,-0.028],[29.55,-0.016],[29.82,-0.002],[30.0,0.003]];

const u4_NFTSMCERL = [[0,0.1],[0.03,0.072],[0.06,0.043],[0.09,0.019],[0.13,0.005],[0.2,0.0005],[0.35,0.0008],[0.6,0.001],[1.0,0.0012],[1.4,0.0018],[1.7,0.0028],[1.87,0.0038],[1.95,0.003],[2.0,-0.006],[2.05,-0.014],[2.12,-0.016],[2.2,-0.017],[2.3,-0.016],[2.4,-0.015],[2.48,-0.013],
[2.52,-0.004],[2.56,-0.012],[2.6,0.002],[2.64,-0.011],[2.68,0.007],[2.72,-0.0095],[2.76,0.0085],[2.8,-0.009],[2.84,0.0088],[2.88,-0.0088],[2.92,0.0088],[2.96,-0.0087],[3.0,0.0089],[3.04,-0.0088],[3.08,0.0087],[3.12,-0.0089],[3.16,0.0088],[3.2,-0.0087],[3.24,0.0089],[3.28,-0.0088],[3.32,0.0088],[3.36,-0.0089],[3.4,0.0087],[3.44,-0.0088],[3.48,0.0089],[3.52,-0.0087],[3.56,0.0088],[3.6,-0.0088],[3.64,0.0089],[3.68,-0.0087],[3.72,0.0088],[3.76,-0.0089],[3.8,0.0087],[3.84,-0.0088],[3.88,0.0089],[3.92,-0.0088],[3.96,0.0088],[4.0,-0.0087],[4.04,0.0089],[4.08,-0.0088],[4.12,0.0087],[4.16,-0.0089],[4.2,0.0088],[4.24,-0.0087],[4.28,0.0089],[4.32,-0.0088],[4.36,0.0088],[4.4,-0.0089],[4.44,0.0087],[4.48,-0.0088],[4.52,0.0089],[4.56,-0.0087],[4.6,0.0088],[4.64,-0.0088],[4.68,0.0089],[4.72,-0.0087],[4.76,0.0088],[4.8,-0.0089],[4.84,0.0087],[4.88,-0.0088],[4.92,0.0089],[4.96,-0.0088],[5.0,0.0],
[5.1,0.011],[5.25,0.025],[5.44,0.032],[5.62,0.029],[5.86,0.023],[6.08,0.012],[6.2,0.006],[6.24,0.0015],[6.27,0.0065],[6.32,0.001],[6.55,-0.016],[6.8,-0.026],[7.05,-0.0295],[7.28,-0.027],[7.48,-0.02],[7.75,-0.008],[7.88,-0.002],[7.92,0.005],[7.96,-0.001],[7.99,0.004],[8.2,0.019],[8.4,0.028],[8.62,0.0305],[8.85,0.027],[9.1,0.015],[9.35,0.003],[9.6,-0.011],[9.9,-0.025],[10.15,-0.0285],[10.4,-0.024],[10.65,-0.012],[10.85,0.001],[10.9,0.006],[10.95,0.002],[11.15,0.017],[11.4,0.027],[11.7,0.0295],[11.95,0.026],[12.2,0.015],[12.45,0.002],[12.75,-0.015],[13.05,-0.026],[13.3,-0.029],[13.55,-0.025],[13.8,-0.013],[14.0,-0.002],[14.05,0.004],[14.1,0.0],[14.3,0.015],[14.55,0.026],[14.85,0.03],[15.1,0.026],[15.35,0.015],[15.6,0.002],[15.9,-0.015],[16.2,-0.026],[16.45,-0.029],[16.7,-0.025],[16.95,-0.013],[17.15,-0.002],[17.2,0.005],[17.25,0.001],[17.45,0.015],[17.7,0.026],[18.0,0.03],[18.25,0.026],[18.5,0.015],[18.75,0.002],[19.05,-0.015],[19.35,-0.026],[19.6,-0.0285],[19.85,-0.025],[20.1,-0.013],[20.3,-0.002],[20.35,0.004],[20.4,0.0],[20.6,0.015],[20.85,0.026],[21.15,0.03],[21.4,0.026],[21.65,0.015],[21.9,0.002],[22.2,-0.015],[22.5,-0.026],[22.75,-0.029],[23.0,-0.025],[23.25,-0.013],[23.45,-0.002],[23.5,0.005],[23.55,0.0],[23.75,0.015],[24.0,0.026],[24.3,0.03],[24.55,0.026],[24.8,0.015],[25.05,0.002],[25.35,-0.015],[25.65,-0.026],[25.9,-0.0285],[26.15,-0.025],[26.4,-0.013],[26.6,-0.002],[26.65,0.005],[26.7,0.0],[26.9,0.015],[27.15,0.026],[27.45,0.03],[27.7,0.026],[27.95,0.015],[28.2,0.002],[28.5,-0.015],[28.8,-0.026],[29.05,-0.0285],[29.3,-0.025],[29.55,-0.013],[29.75,-0.002],[29.8,0.006],[29.85,0.0],[30.0,0.004]];

const u4_NFTSMCPRL = [[0,0.1],[0.03,0.075],[0.06,0.045],[0.09,0.02],[0.13,0.006],[0.2,0.0005],[0.35,0.0008],[0.6,0.001],[1.0,0.0012],[1.4,0.0018],[1.7,0.0028],[1.87,0.004],[1.95,0.003],[2.0,-0.008],[2.04,-0.022],[2.08,-0.037],[2.13,-0.03],[2.2,-0.018],[2.3,-0.009],[2.45,-0.002],[2.6,0.0012],[2.75,0.0003],[3.0,-0.0003],[3.5,-0.0004],[4.0,-0.0004],[4.5,-0.0004],[4.95,-0.0003],[5.1,0.012],[5.25,0.026],[5.44,0.0334],[5.62,0.03],[5.86,0.024],[6.08,0.013],[6.29,0.0015],[6.55,-0.017],[6.8,-0.027],[7.05,-0.0305],[7.28,-0.028],[7.48,-0.021],[7.75,-0.009],[7.99,0.003],[8.2,0.02],[8.4,0.0295],[8.62,0.0315],[8.85,0.028],[9.1,0.016],[9.35,0.003],[9.6,-0.012],[9.9,-0.026],[10.15,-0.0295],[10.4,-0.025],[10.65,-0.013],[10.92,0.004],[11.15,0.018],[11.4,0.0277],[11.7,0.0305],[11.95,0.027],[12.2,0.016],[12.45,0.002],[12.75,-0.016],[13.05,-0.027],[13.3,-0.03],[13.55,-0.026],[13.8,-0.014],[14.07,0.002],[14.3,0.016],[14.55,0.027],[14.85,0.031],[15.1,0.027],[15.35,0.016],[15.6,0.002],[15.9,-0.016],[16.2,-0.027],[16.45,-0.03],[16.7,-0.026],[16.95,-0.014],[17.22,0.002],[17.45,0.016],[17.7,0.027],[18.0,0.031],[18.25,0.027],[18.5,0.016],[18.75,0.002],[19.05,-0.016],[19.35,-0.027],[19.6,-0.0295],[19.85,-0.026],[20.1,-0.014],[20.37,0.002],[20.6,0.016],[20.85,0.027],[21.15,0.031],[21.4,0.027],[21.65,0.016],[21.9,0.002],[22.2,-0.016],[22.5,-0.027],[22.75,-0.03],[23.0,-0.026],[23.25,-0.014],[23.52,0.002],[23.75,0.016],[24.0,0.027],[24.3,0.031],[24.55,0.027],[24.8,0.016],[25.05,0.002],[25.35,-0.016],[25.65,-0.027],[25.9,-0.0295],[26.15,-0.026],[26.4,-0.014],[26.67,0.002],[26.9,0.016],[27.15,0.027],[27.45,0.031],[27.7,0.027],[27.95,0.016],[28.2,0.002],[28.5,-0.016],[28.8,-0.027],[29.05,-0.0295],[29.3,-0.026],[29.55,-0.014],[29.82,0.0],[30.0,0.004]];

// ---------------- STYLE ----------------
const W = 2950, H = 1808;
const px = v => v / W;
const py = v => 1 - v / H;
const INK = '#262626';
const lineStyle = {
  NFTSMC:    {color: '#ff0000', width: 6,   dash: '26px,13px'},
  NFTSMCERL: {color: '#00ff00', width: 5,   dash: '5px,7px'},
  NFTSMCPRL: {color: '#0000ff', width: 6,   dash: '24px,8px,6px,8px'}
};

const panels = [
  {ax: '',  data: [u1_NFTSMC, u1_NFTSMCERL, u1_NFTSMCPRL], shape: 'spline'},
  {ax: '2', data: [u3_NFTSMC, u3_NFTSMCERL, u3_NFTSMCPRL], shape: 'linear'},
  {ax: '3', data: [u2_NFTSMC, u2_NFTSMCERL, u2_NFTSMCPRL], shape: 'linear'},
  {ax: '4', data: [u4_NFTSMC, u4_NFTSMCERL, u4_NFTSMCPRL], shape: 'spline'}
];

const traces = [];
panels.forEach((p, pi) => {
  p.data.forEach((series, mi) => {
    const m = methods[mi];
    traces.push({
      type: 'scatter', mode: 'lines', name: m, legendgroup: m,
      showlegend: pi === 0,
      x: series.map(d => d[0]), y: series.map(d => d[1]),
      xaxis: 'x' + p.ax, yaxis: 'y' + p.ax,
      line: Object.assign({shape: p.shape, smoothing: 0.6, simplify: false}, lineStyle[m]),
      hoverinfo: 'skip'
    });
  });
});

function axisBase(extra) {
  return Object.assign({
    showline: true, linewidth: 9, linecolor: INK, mirror: 'ticks',
    ticks: 'inside', ticklen: 16, tickwidth: 9, tickcolor: INK,
    showgrid: true, gridcolor: '#d4d4d4', gridwidth: 3, zeroline: false,
    tickfont: {family: 'Liberation Sans', size: 86, weight: 'bold', color: INK},
    ticklabeloverflow: 'allow',
    fixedrange: true
  }, extra);
}
const xa = (dom, anchor, stand) => axisBase({domain: dom, anchor: anchor, range: [0, 30], tickvals: xTicks, ticktext: xTicks.map(String), ticklabelstandoff: stand});

const labelFont = {family: 'DejaVu Sans', size: 88, weight: 'bold', color: INK};
function yLabel(text, x, y) {
  return {text: text, x: px(x), y: py(y), xref: 'paper', yref: 'paper', showarrow: false, textangle: -90, xanchor: 'center', yanchor: 'middle', font: labelFont};
}
function xLabel(text, x, y) {
  return {text: text, x: px(x), y: py(y), xref: 'paper', yref: 'paper', showarrow: false, xanchor: 'center', yanchor: 'middle', font: labelFont};
}

const layout = {
  width: W, height: H,
  margin: {l: 0, r: 0, t: 0, b: 0, pad: 0},
  paper_bgcolor: '#ffffff', plot_bgcolor: '#ffffff',
  showlegend: true,
  legend: {x: px(2206), y: py(902), xanchor: 'left', yanchor: 'top', bgcolor: '#ffffff', bordercolor: INK, borderwidth: 3,
           font: {family: 'DejaVu Sans', size: 70, weight: 'bold', color: '#000000'}, itemwidth: 150, tracegroupgap: 0},
  xaxis:  xa([px(254), px(1396)], 'y', -9),
  yaxis:  axisBase({domain: [py(716), py(30)], anchor: 'x', range: [7, 17], tickvals: u1Ticks, ticktext: u1Ticks.map(String), ticklabelstandoff: -11}),
  xaxis2: xa([px(1710), px(2897)], 'y2', -9),
  yaxis2: axisBase({domain: [py(722), py(29)], anchor: 'x2', range: [-1, 1], tickvals: u23Ticks, ticktext: u23TickText, ticklabelstandoff: 2}),
  xaxis3: xa([px(254), px(1396)], 'y3', -5),
  yaxis3: axisBase({domain: [py(1571), py(942)], anchor: 'x3', range: [-1, 1], tickvals: u23Ticks, ticktext: u23TickText, ticklabelstandoff: -1}),
  xaxis4: xa([px(1720), px(2897)], 'y4', -5),
  yaxis4: axisBase({domain: [py(1576), py(927)], anchor: 'x4', range: [-0.05, 0.1], tickvals: u4Ticks, ticktext: u4TickText, ticklabelstandoff: -18}),
  annotations: [
    yLabel('u<sub>1</sub>(N)', 44, 353),
    yLabel('u<sub>3</sub>(Nm)', 1532, 348),
    yLabel('u<sub>2</sub>(Nm)', 66, 1241),
    yLabel('u<sub>4</sub>(Nm)', 1514, 1300),
    xLabel('time(s)', 880, 1763),
    xLabel('time(s)', 2381, 1763)
  ]
};

Plotly.newPlot('chart', traces, layout, {staticPlot: true, displayModeBar: false});
</script>
</body>
</html>
